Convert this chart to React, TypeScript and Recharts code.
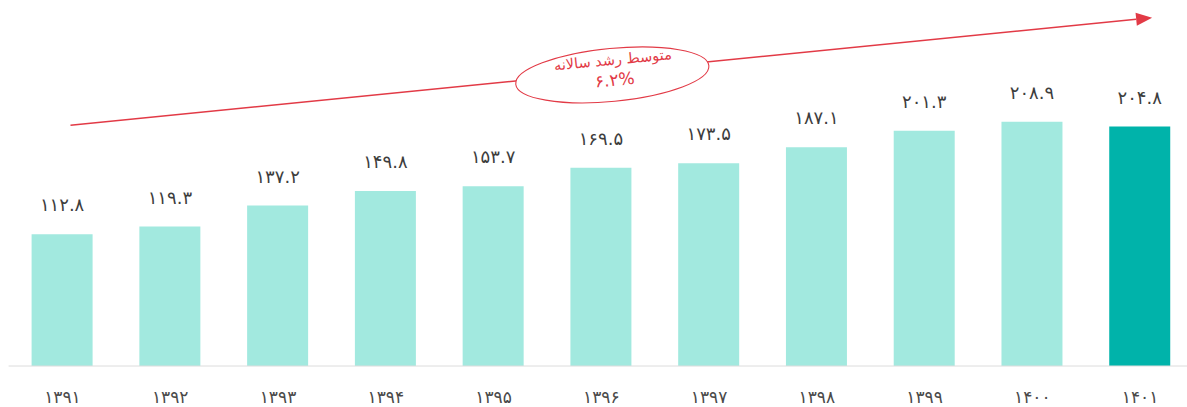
import {
  BarChart,
  Bar,
  XAxis,
  YAxis,
  Cell,
  LabelList,
  ReferenceLine,
  ReferenceDot,
} from "recharts";

// سال‌ها (محور افقی)
const years = [
  "۱۳۹۱",
  "۱۳۹۲",
  "۱۳۹۳",
  "۱۳۹۴",
  "۱۳۹۵",
  "۱۳۹۶",
  "۱۳۹۷",
  "۱۳۹۸",
  "۱۳۹۹",
  "۱۴۰۰",
  "۱۴۰۱",
];

// مقدار هر سال
const values = [112.8, 119.3, 137.2, 149.8, 153.7, 169.5, 173.5, 187.1, 201.3, 208.9, 204.8];

// سال برجسته (ستون تیره)
const highlightYear = "۱۴۰۱";

// متن بیضی رشد
const growthTitle = "متوسط رشد سالانه";
const growthValue = "۶.۲%";

// دو سر پیکان روند (بر حسب مقدار محور عمودی)
const trendFrom = 206;
const trendTo = 298;
const badgeY = 249;

const data = years.map((year, i) => ({ year, value: values[i] }));

const FONT = "'DejaVu Sans', sans-serif";
const RED = "#e23a46";
const LIGHT = "#a2e9df";
const DARK = "#00b3aa";

const toFa = (v: number | string) =>
  Number(v)
    .toFixed(1)
    .replace(/\d/g, (d) => "۰۱۲۳۴۵۶۷۸۹"[+d]);

// پیکان قرمز روند
const TrendArrow = (p: any) => {
  const x1 = p.x1 + 8;
  const y1 = p.y1;
  const tipX = p.x2 + 12;
  const tipY = p.y2;
  const ang = Math.atan2(tipY - y1, tipX - x1);
  const len = 16;
  const half = 6.5;
  const bx = tipX - len * Math.cos(ang);
  const by = tipY - len * Math.sin(ang);
  const nx = -Math.sin(ang) * half;
  const ny = Math.cos(ang) * half;
  return (
    <g>
      <line x1={x1} y1={y1} x2={bx} y2={by} stroke={RED} strokeWidth={1.5} />
      <polygon
        points={`${tipX},${tipY} ${bx + nx},${by + ny} ${bx - nx},${by - ny}`}
        fill={RED}
      />
    </g>
  );
};

// بیضی متوسط رشد
const GrowthBadge = (p: any) => {
  const cx = p.cx + 11;
  const cy = p.cy;
  return (
    <g transform={`rotate(-5.5 ${cx} ${cy})`}>
      <ellipse cx={cx} cy={cy} rx={97} ry={26.5} fill="#fff" stroke={RED} strokeWidth={1.1} />
      <text
        x={cx + 2}
        y={cy - 10}
        textAnchor="middle"
        fill={RED}
        fontSize={14.5}
        fontFamily={FONT}
      >
        {growthTitle}
      </text>
      <text
        x={cx + 2}
        y={cy + 11}
        textAnchor="middle"
        fill={RED}
        fontSize={17}
        fontFamily={FONT}
      >
        {growthValue}
      </text>
    </g>
  );
};

export default function App() {
  return (
    <div
      style={{
        position: "absolute",
        left: 0,
        top: 0,
        width: 1187,
        height: 407,
        overflow: "hidden",
        background: "#fff",
      }}
    >
      <BarChart
        width={1194}
        height={407}
        data={data}
        margin={{ top: 15.3, right: 0, left: 8.6, bottom: 11 }}
        barSize={61}
      >
        <XAxis
          dataKey="year"
          axisLine={{ stroke: "#dcdcdc" }}
          tickLine={false}
          tickMargin={19}
          tick={{ fill: "#4a4a4a", fontSize: 17, fontFamily: FONT, letterSpacing: -0.5 }}
          interval={0}
        />
        <YAxis hide domain={[0, 300]} />
        <Bar dataKey="value" isAnimationActive={false}>
          {data.map((d) => (
            <Cell key={d.year} fill={d.year === highlightYear ? DARK : LIGHT} />
          ))}
          <LabelList
            dataKey="value"
            position="top"
            offset={23}
            formatter={(v: any) => toFa(v)}
            style={{ fill: "#3d3d3d", fontSize: 18, fontFamily: FONT, letterSpacing: -0.6 }}
          />
        </Bar>
        <ReferenceLine
          segment={[
            { x: years[0], y: trendFrom },
            { x: years[years.length - 1], y: trendTo },
          ]}
          shape={TrendArrow}
        />
        <ReferenceDot x={years[5]} y={badgeY} shape={GrowthBadge} />
      </BarChart>
    </div>
  );
}
